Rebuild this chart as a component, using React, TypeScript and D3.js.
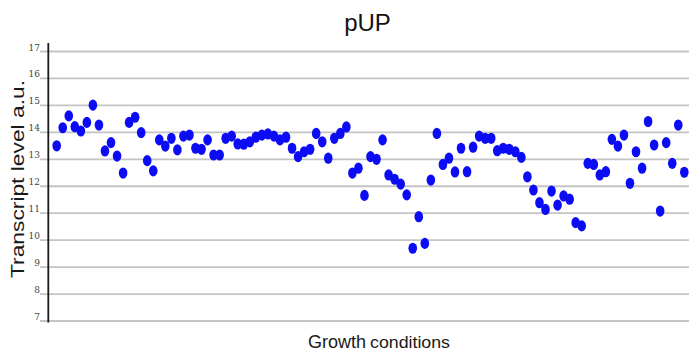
import React from "react";
import * as d3 from "d3";

const title = "pUP";
const yTicks = [7, 8, 9, 10, 11, 12, 13, 14, 15, 16, 17];
const transcript = [
  13.5, 14.17, 14.61, 14.21, 14.05, 14.37, 15.01, 14.27, 13.31, 13.62,
  13.12, 12.49, 14.37, 14.56, 13.99, 12.95, 12.57, 13.72, 13.49, 13.78,
  13.35, 13.86, 13.9, 13.41, 13.37, 13.72, 13.16, 13.16, 13.78, 13.86,
  13.57, 13.56, 13.65, 13.82, 13.9, 13.94, 13.86, 13.72, 13.82, 13.41,
  13.1, 13.28, 13.37, 13.96, 13.65, 13.04, 13.78, 13.96, 14.2, 12.49,
  12.67, 11.66, 13.1, 13.0, 13.72, 12.42, 12.26, 12.08, 11.68, 9.7,
  10.87, 9.88, 12.23, 13.96, 12.81, 13.04, 12.53, 13.41, 12.54, 13.45,
  13.86, 13.78, 13.78, 13.32, 13.41, 13.37, 13.28, 13.07, 12.35, 11.86,
  11.39, 11.14, 11.82, 11.3, 11.64, 11.52, 10.65, 10.53, 12.85, 12.81,
  12.42, 12.54, 13.74, 13.49, 13.9, 12.11, 13.28, 12.67, 14.4, 13.53,
  11.08, 13.62, 12.85, 14.27, 12.52,
];
const conditions = transcript.map((_, i) => `c${i + 1}`);

const W = 689;
const H = 356;

export default function App() {
  const x = d3.scalePoint<string>().domain(conditions).range([56.7, 684.3]);
  const y = d3.scaleLinear().domain([7, 17]).range([321, 51.5]);
  const font = "'Liberation Sans', Arial, sans-serif";

  return (
    <svg
      width={W}
      height={H}
      style={{ position: "fixed", left: 0, top: 0, background: "#fff" }}
    >
      {yTicks.map((t) => (
        <g key={t}>
          <line x1={40} x2={W} y1={y(t)} y2={y(t)} stroke="#c4c4c4" strokeWidth={1.8} />
          <text
            x={40}
            y={y(t) - 1}
            textAnchor="end"
            fontSize={9}
            fontFamily="'DejaVu Serif', serif"
            fill="#444"
          >
            {t}
          </text>
        </g>
      ))}
      <line x1={48.3} x2={48.3} y1={43} y2={322.5} stroke="#1a1a1a" strokeWidth={1.8} />

      {transcript.map((v, i) => (
        <ellipse
          key={i}
          cx={x(conditions[i])}
          cy={y(v)}
          rx={4.3}
          ry={5.6}
          fill="#0c0cf4"
        />
      ))}

      <text x={367.5} y={31} textAnchor="middle" fontSize={24} fontFamily={font} fill="#111">
        {title}
      </text>

      <text
        transform="translate(24,179) rotate(-90)"
        textAnchor="middle"
        fontSize={18}
        fontFamily={font}
        fill="#1a1a1a"
        textLength={198}
        lengthAdjust="spacingAndGlyphs"
      >
        Transcript level a.u.
      </text>

      <text x={308} y={348} fontSize={18.5} fontFamily={font} fill="#1a1a1a" textLength={58} lengthAdjust="spacingAndGlyphs">
        Growth
      </text>
      <text x={370} y={348} fontSize={16} fontFamily={font} fill="#1a1a1a" textLength={80} lengthAdjust="spacingAndGlyphs">
        conditions
      </text>
    </svg>
  );
}
